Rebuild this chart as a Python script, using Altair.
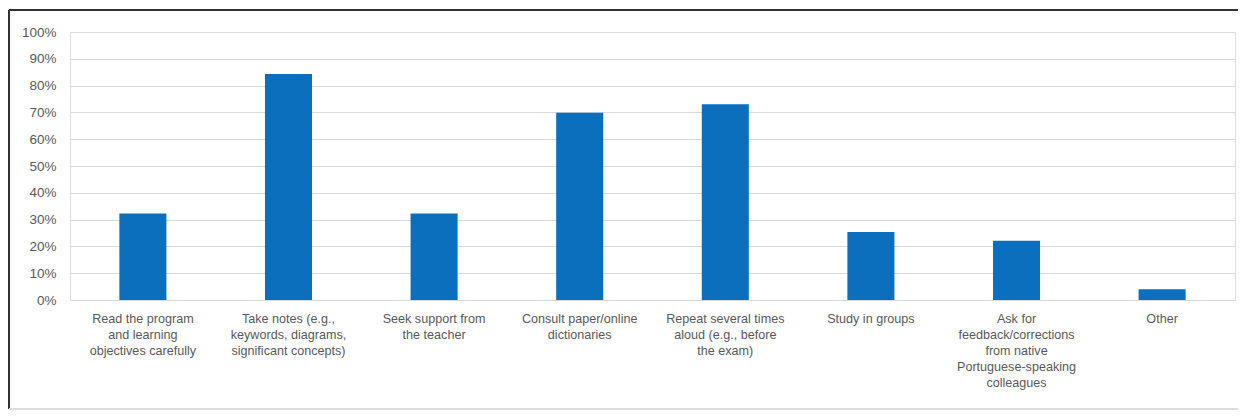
import altair as alt
import pandas as pd

categories = [
    "Read the program\nand learning\nobjectives carefully",
    "Take notes (e.g.,\nkeywords, diagrams,\nsignificant concepts)",
    "Seek support from\nthe teacher",
    "Consult paper/online\ndictionaries",
    "Repeat several times\naloud (e.g., before\nthe exam)",
    "Study in groups",
    "Ask for\nfeedback/corrections\nfrom native\nPortuguese-speaking\ncolleagues",
    "Other",
]
values = [0.323, 0.843, 0.323, 0.699, 0.730, 0.254, 0.221, 0.040]

df = pd.DataFrame({"cat": categories, "val": values})

FONT = "Liberation Sans"
GRAY = "#595959"

bars = alt.Chart(df).mark_bar(color="#0b6fbd").encode(
    x=alt.X(
        "cat:N",
        sort=None,
        title=None,
        scale=alt.Scale(paddingInner=0.677, paddingOuter=0.339),
        axis=alt.Axis(
            labelAngle=0,
            labelExpr="split(datum.label, '\\n')",
            labelLineHeight=16,
            labelFontSize=12.6,
            labelFont=FONT,
            labelColor=GRAY,
            labelPadding=12,
            labelBaseline="top",
            ticks=False,
            domainColor="#d9d9d9",
            grid=False,
        ),
    ),
    y=alt.Y(
        "val:Q",
        title=None,
        scale=alt.Scale(domain=[0, 1]),
        axis=alt.Axis(
            format=".0%",
            values=[i / 10 for i in range(11)],
            labelFontSize=13.5,
            labelFont=FONT,
            labelColor=GRAY,
            labelPadding=14,
            ticks=False,
            domain=False,
            gridColor="#d9d9d9",
            gridWidth=1,
        ),
    ),
)

left_border = alt.Chart(df).mark_rule(color="#333333", strokeWidth=1.5).encode(
    x=alt.value(-61), y=alt.value(-22), y2=alt.value(377)
)
top_border = alt.Chart(df).mark_rule(color="#333333", strokeWidth=1.5).encode(
    x=alt.value(-61), x2=alt.value(1176), y=alt.value(-22)
)
bottom_border = alt.Chart(df).mark_rule(color="#dddddd", strokeWidth=1.5).encode(
    x=alt.value(-61), x2=alt.value(1176), y=alt.value(377)
)

chart = (
    alt.layer(bars, left_border, top_border, bottom_border)
    .properties(
        width=1165,
        height=268,
        autosize=alt.AutoSizeParams(type="none"),
        padding={"left": 62, "top": 24, "right": 3, "bottom": 111},
    )
    .configure_view(stroke=None)
    .configure(background="white")
)

chart.save("out.html", embed_options={"renderer": "svg", "actions": False})
